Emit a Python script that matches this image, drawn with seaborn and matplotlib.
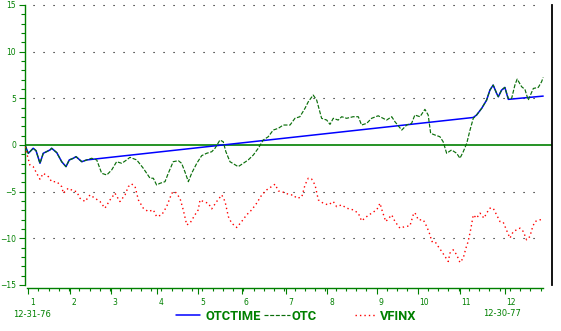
import matplotlib
matplotlib.use("Agg")
import matplotlib.pyplot as plt
import seaborn as sns
from matplotlib.ticker import FixedLocator
from matplotlib.transforms import ScaledTranslation

# ---- data (trading-day index since 12-31-76, percent change) ----
otc_day = [0, 1.6, 2.4, 4.0, 5.4, 7.3, 8.9, 12.2, 13.0, 15.5, 17.9, 20.0, 21.6, 23.6, 24.9,
           27.7, 30.1, 32.5, 35.0, 37.4, 39.9, 42.3, 44.7, 47.2, 49.6, 51.2, 54.5, 57.7,
           61.0, 62.6, 64.2, 65.9, 68.3, 69.9, 72.3, 74.8, 76.4, 78.0, 79.7, 81.3, 83.8,
           86.2, 88.6, 91.1, 92.7, 95.1, 96.7, 98.0, 100.0, 104.0, 106.5, 108.9, 111.4,
           113.8, 116.2, 118.7, 121.1, 123.6, 126.0, 129.3, 131.7, 134.1, 136.6, 138.2,
           140.6, 142.3, 144.7, 147.2, 148.8, 150.4, 152.8, 154.5, 156.9, 160.1, 162.6,
           164.2, 166.7, 169.1, 172.3, 176.4, 178.9, 180.5, 183.8, 186.2, 188.6, 190.2,
           192.7, 195.1, 196.7, 197.9, 200.0, 202.4, 204.0, 205.7, 208.1, 210.6, 212.2,
           213.8, 215.5, 217.1, 218.7, 220.3, 222.8, 225.2, 226.8, 228.4, 230.1, 230.9,
           232.5, 234.1, 235.8, 237.4, 239.0, 240.1, 242.3, 243.9, 245.5, 248.0, 250.4,
           252.0, 252.8]
otc_val = [0, -0.89, -0.72, -0.35, -0.61, -1.96, -0.89, -0.53, -0.35, -0.82, -1.79, -2.32,
           -1.60, -1.42, -1.25, -1.79, -1.60, -1.42, -1.60, -3.03, -3.21, -2.67, -1.79,
           -1.96, -1.60, -1.32, -1.60, -2.49, -3.56, -3.56, -4.28, -4.10, -3.93, -3.03,
           -1.79, -1.68, -1.96, -2.86, -3.93, -3.03, -1.96, -1.14, -0.89, -0.72, -0.35,
           0.53, 0.35, -0.72, -1.79, -2.32, -1.96, -1.60, -1.07, -0.35, 0.53, 0.89, 1.60,
           1.79, 2.14, 2.14, 2.86, 3.03, 3.93, 4.63, 5.35, 4.81, 2.86, 2.67, 2.21, 2.86,
           2.67, 3.03, 2.86, 3.03, 3.03, 2.14, 2.32, 2.86, 3.13, 2.67, 3.03, 2.49, 1.60,
           2.14, 2.32, 3.21, 3.03, 3.82, 3.21, 1.25, 1.07, 0.89, 0.35, -0.89, -0.53, -0.89,
           -1.42, -0.72, 0.18, 1.60, 2.86, 3.21, 3.93, 4.81, 5.88, 6.42, 5.53, 5.17, 5.88,
           6.17, 4.99, 4.99, 6.42, 7.06, 6.24, 5.96, 4.81, 6.06, 6.17, 6.77, 7.24]

otctime_day = [0, 1.6, 2.4, 4.0, 5.4, 7.3, 8.9, 12.2, 13.0, 15.5, 17.9, 20.0, 21.6, 23.6,
               24.9, 27.7, 30.1, 218.7, 220.3, 222.8, 225.2, 226.8, 228.4, 230.1, 230.9,
               232.5, 234.1, 235.8, 252.8]
otctime_val = [0, -0.89, -0.72, -0.35, -0.61, -1.96, -0.89, -0.53, -0.35, -0.82, -1.79,
               -2.32, -1.60, -1.42, -1.25, -1.79, -1.60, 2.95, 3.21, 3.93, 4.81, 5.88, 6.42,
               5.53, 5.17, 5.88, 6.17, 4.89, 5.24]

vfinx_day = [0, 1.1, 2.4, 4.0, 5.7, 7.3, 8.9, 11.4, 13.0, 15.5, 17.9, 18.7, 21.1, 23.6,
             25.2, 26.8, 29.3, 31.7, 34.1, 36.6, 39.0, 41.5, 43.9, 46.3, 48.8, 50.4, 52.0,
             53.7, 55.3, 57.7, 60.1, 62.6, 64.2, 66.7, 69.1, 71.6, 73.2, 75.6, 77.2, 78.9,
             80.5, 82.9, 84.5, 85.4, 87.0, 89.4, 91.1, 93.5, 96.0, 97.6, 99.2, 100.8, 103.3,
             105.7, 108.1, 110.6, 113.0, 115.5, 117.9, 120.3, 122.0, 123.6, 126.0, 129.3,
             130.9, 132.5, 135.0, 136.6, 138.2, 139.8, 141.5, 143.1, 145.5, 148.0, 150.4,
             152.0, 154.5, 156.9, 160.1, 162.6, 164.2, 166.7, 169.1, 171.6, 173.2, 174.0,
             176.0, 178.9, 180.5, 182.9, 185.4, 187.8, 189.4, 190.2, 191.9, 194.3, 196.0,
             197.6, 198.4, 200.0, 201.6, 203.3, 204.9, 206.5, 207.3, 208.9, 210.6, 212.2,
             213.8, 215.1, 216.2, 217.4, 218.7, 220.3, 222.0, 223.9, 225.2, 226.8, 228.4,
             230.1, 231.7, 233.3, 235.0, 236.6, 238.2, 239.9, 241.5, 243.1, 244.7, 246.3,
             247.7, 248.8, 251.2, 252.8]
vfinx_val = [-0.2, -1.07, -2.14, -2.32, -3.03, -3.67, -3.03, -3.39, -3.93, -3.93, -4.46,
             -5.17, -4.63, -4.92, -4.99, -5.70, -6.06, -5.35, -5.70, -6.06, -6.77, -5.88,
             -5.17, -6.06, -5.35, -4.46, -4.17, -4.46, -5.88, -6.77, -7.13, -6.95, -7.67,
             -7.49, -6.60, -5.17, -4.99, -5.70, -6.95, -8.56, -8.37, -7.49, -6.95, -5.88,
             -6.06, -6.24, -6.84, -6.06, -5.35, -6.06, -7.67, -8.37, -8.84, -8.20, -7.49,
             -6.95, -6.24, -5.35, -4.81, -4.46, -4.20, -4.92, -5.06, -5.35, -5.35, -5.70,
             -5.59, -4.28, -3.56, -3.64, -4.28, -5.88, -6.24, -6.42, -6.06, -6.60, -6.42,
             -6.77, -6.95, -7.30, -8.13, -7.67, -7.30, -6.95, -6.24, -6.88, -8.20, -7.49,
             -8.20, -8.91, -8.74, -8.66, -7.49, -7.24, -8.02, -8.02, -8.74, -9.63, -10.34,
             -10.34, -10.88, -11.41, -11.95, -12.48, -11.58, -11.23, -11.76, -12.59, -12.12,
             -11.05, -10.34, -9.09, -7.49, -7.84, -7.30, -7.84, -7.30, -6.77, -6.77, -7.49,
             -8.20, -8.27, -9.17, -9.98, -9.27, -9.09, -8.91, -9.27, -10.16, -9.81, -8.74,
             -8.20, -8.02, -7.95]

series_names = ["OTCTIME", "OTC", "VFINX"]
month_labels = ["1", "2", "3", "4", "5", "6", "7", "8", "9", "10", "11", "12"]
month_start_day = [1.5, 22, 42, 64.5, 84.5, 106, 127.5, 147.5, 171.5, 191.5, 212, 234]
start_label = "12-31-76"
end_label = "12-30-77"

GREEN = "#008000"
LINE_GREEN = "#0a6e0a"

sns.set_theme(style="white")
plt.rcParams["font.family"] = ["DejaVu Sans"]

W, H = 561, 331
fig = plt.figure(figsize=(W / 100, H / 100), dpi=100)
ax = fig.add_axes([25 / W, 46 / H, 527 / W, 280 / H])

# dotted grid and zero line
ax.hlines([-10, -5, 5, 10, 15], 4, 252.8, colors="black", linewidth=0.8,
          linestyles=[(0, (1, 8.0))], clip_on=False, zorder=1)
ax.axhline(0, color=GREEN, lw=1.2, zorder=1)

sns.lineplot(x=otctime_day, y=otctime_val, ax=ax, color="#0000ff", lw=1.1,
             estimator=None, sort=False, legend=False, zorder=2)
sns.lineplot(x=otc_day, y=otc_val, ax=ax, color=LINE_GREEN, lw=0.85,
             estimator=None, sort=False, legend=False, zorder=3)
sns.lineplot(x=vfinx_day, y=vfinx_val, ax=ax, color="#ff0000", lw=1.0,
             estimator=None, sort=False, legend=False, zorder=3)
l_time, l_otc, l_vfinx = ax.lines[-3:]
l_otc.set_linestyle((0, (3.4, 1.4)))
l_vfinx.set_linestyle((0, (1, 2.2)))

ax.set_ylim(-15, 15)
ax.set_xlim(0, 257.1)
ax.set_xlabel("")
ax.set_ylabel("")

# spines
ax.spines["top"].set_visible(False)
ax.spines["right"].set_color("black")
ax.spines["right"].set_linewidth(1.3)
for s in ["left", "bottom"]:
    ax.spines[s].set_color(GREEN)
    ax.spines[s].set_linewidth(1.0)
ax.spines["bottom"].set_position(("outward", 2.2))
ax.spines["bottom"].set_bounds(0.8, 252.8)

# y ticks
ax.set_yticks(range(-15, 16, 5))
ax.yaxis.set_minor_locator(FixedLocator(range(-15, 16)))
ax.tick_params(axis="y", which="major", left=True, direction="out", length=4.3,
               width=0.8, color=GREEN, labelcolor=GREEN, labelsize=5.5, pad=2.2)
ax.tick_params(axis="y", which="minor", left=True, direction="out", length=2.9,
               width=0.8, color=GREEN)

# x ticks
ax.set_xticks(month_start_day)
ax.set_xticklabels(month_labels)
ax.xaxis.set_minor_locator(FixedLocator([1.5 + 5 * i for i in range(51)]))
ax.tick_params(axis="x", which="major", bottom=True, direction="out", length=4.3,
               width=0.8, color=GREEN, labelcolor=GREEN, labelsize=5.5, pad=2.6)
ax.tick_params(axis="x", which="minor", bottom=True, direction="out", length=2.4,
               width=0.8, color=GREEN)
off = ScaledTranslation(1.7 / 100, 0, fig.dpi_scale_trans)
for lbl in ax.get_xticklabels():
    lbl.set_horizontalalignment("left")
    lbl.set_transform(lbl.get_transform() + off)

# date labels
fig.text(13 / W, 1 - 314.3 / H, start_label, ha="left", va="center", color=GREEN, fontsize=6)
fig.text(482.7 / W, 1 - 314 / H, end_label, ha="left", va="center", color=GREEN, fontsize=6)

# legend entries
leg_size = 9.3
leg_font = dict(family=["Roboto", "DejaVu Sans"], weight="bold", size=leg_size)
fs_px = leg_size * 100 / 72
entries = [(l_time, series_names[0], 176, 24, 5),
           (l_otc, series_names[1], 264, 26, 2),
           (l_vfinx, series_names[2], 355, 20, 5)]
for handle, name, x0, hl, tp in entries:
    fig.legend(handles=[handle], labels=[name], loc="center left",
               bbox_to_anchor=(x0 / W, 1 - 316.5 / H), frameon=False, borderpad=0,
               borderaxespad=0, handlelength=hl / fs_px, handletextpad=tp / fs_px,
               prop=leg_font, labelcolor=GREEN)

fig.savefig("out.png", dpi=100)
